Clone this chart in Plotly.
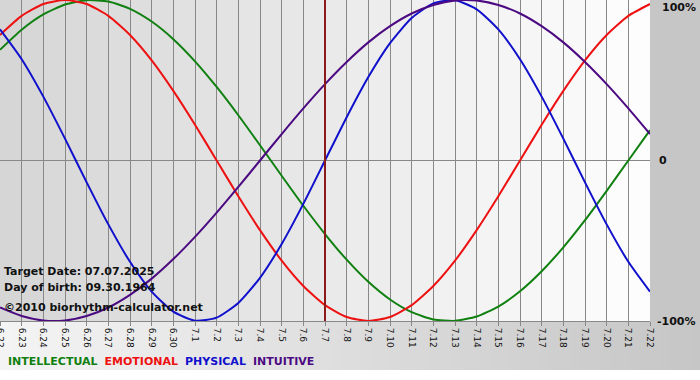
import plotly.graph_objects as go

# ---- data ----
dates = ["6.22", "6.23", "6.24", "6.25", "6.26", "6.27", "6.28", "6.29", "6.30",
         "7.1", "7.2", "7.3", "7.4", "7.5", "7.6", "7.7", "7.8", "7.9", "7.10",
         "7.11", "7.12", "7.13", "7.14", "7.15", "7.16", "7.17", "7.18", "7.19",
         "7.20", "7.21", "7.22"]

physical = [0.817, 0.631, 0.398, 0.136, -0.136, -0.398, -0.631, -0.817, -0.942,
            -0.998, -0.979, -0.888, -0.731, -0.520, -0.270, 0.000, 0.270, 0.520,
            0.731, 0.888, 0.979, 0.998, 0.942, 0.817, 0.631, 0.398, 0.136, -0.136,
            -0.398, -0.631, -0.817]

emotional = [0.782, 0.901, 0.975, 1.000, 0.975, 0.901, 0.782, 0.624, 0.434,
             0.223, 0.000, -0.223, -0.434, -0.624, -0.782, -0.901, -0.975, -1.000,
             -0.975, -0.901, -0.782, -0.624, -0.434, -0.223, 0.000, 0.223, 0.434,
             0.624, 0.782, 0.901, 0.975]

intellectual = [0.690, 0.815, 0.910, 0.972, 0.999, 0.990, 0.945, 0.866, 0.756,
                0.618, 0.458, 0.282, 0.095, -0.095, -0.282, -0.458, -0.618, -0.756,
                -0.866, -0.945, -0.990, -0.999, -0.972, -0.910, -0.815, -0.690,
                -0.541, -0.372, -0.189, 0.000, 0.189]

intuitive = [-0.916, -0.969, -0.997, -0.997, -0.969, -0.916, -0.837, -0.736, -0.614,
             -0.476, -0.325, -0.165, 0.000, 0.165, 0.325, 0.476, 0.614, 0.736,
             0.837, 0.916, 0.969, 0.997, 0.997, 0.969, 0.916, 0.837, 0.736, 0.614,
             0.476, 0.325, 0.165]

target_index = 15
y_tickvals = [1, 0, -1]
y_ticktext = ["100%", "0", "-100%"]

series = [
    ("INTELLECTUAL", intellectual, "#108010"),
    ("EMOTIONAL", emotional, "#ee1111"),
    ("PHYSICAL", physical, "#1010cc"),
    ("INTUITIVE", intuitive, "#4b0a82"),
]

# ---- layout constants (pixels) ----
W, H = 700, 380
ML, MR, MT, MB = 0, 50, 0, 59
PH = H - MT - MB
PW = W - ML - MR

def py(ypx):
    return (H - MB - ypx) / PH

def px(xpx):
    return (xpx - ML) / PW

x = list(range(len(dates)))
fig = go.Figure()
for name, vals, col in series:
    fig.add_trace(go.Scatter(x=x, y=vals, mode="lines", name=name,
                             line=dict(color=col, width=2, shape="spline", smoothing=0.6),
                             hoverinfo="skip", cliponaxis=False))

shapes = []
n = len(dates) - 1
def mix(c0, c1, t):
    return "rgb(%d,%d,%d)" % tuple(round(a + (b - a) * t) for a, b in zip(c0, c1))

# plot-area gradient by day column
for i in range(n):
    t = i / (n - 1)
    shapes.append(dict(type="rect", xref="x", yref="paper", x0=i, x1=i + 1, y0=0, y1=1,
                       fillcolor=mix((214, 214, 214), (253, 253, 253), t),
                       line=dict(width=0), layer="below"))
# right panel
shapes.append(dict(type="rect", xref="paper", yref="paper", x0=1, x1=px(W), y0=0, y1=1,
                   fillcolor="#c6c6c6", line=dict(width=0), layer="below"))
# bottom band gradient
steps = 70
for i in range(steps):
    t = i / (steps - 1)
    shapes.append(dict(type="rect", xref="paper", yref="paper",
                       x0=px(i * W / steps), x1=px((i + 1) * W / steps + 0.5),
                       y0=py(370), y1=0,
                       fillcolor=mix((244, 244, 244), (198, 198, 198), t),
                       line=dict(width=0), layer="below"))
# target line
shapes.append(dict(type="line", xref="x", yref="paper", x0=target_index, x1=target_index,
                   y0=0, y1=1, line=dict(color="#8b1a1a", width=2), layer="above"))

annotations = []
bold = dict(family="DejaVu Sans", size=11, color="#111111")
annotations.append(dict(xref="paper", yref="paper", x=px(W - 2), y=1, yanchor="top",
                        xanchor="right", text="<b>" + y_ticktext[0] + "</b>",
                        showarrow=False, font=bold, yshift=1))
annotations.append(dict(xref="paper", yref="y", x=px(663), y=y_tickvals[1], xanchor="center",
                        yanchor="middle", text="<b>" + y_ticktext[1] + "</b>",
                        showarrow=False, font=bold))
annotations.append(dict(xref="paper", yref="y", x=px(W - 2), y=y_tickvals[2], xanchor="right",
                        yanchor="middle", text="<b>" + y_ticktext[2] + "</b>",
                        showarrow=False, font=bold))

info = [("Target Date: 07.07.2025", 271), ("Day of birth: 09.30.1964", 287),
        ("©2010 biorhythm-calculator.net", 307)]
for txt, ycen in info:
    annotations.append(dict(xref="paper", yref="paper", x=px(2), y=py(ycen), xanchor="left",
                            yanchor="middle", text="<b>" + txt + "</b>", showarrow=False,
                            font=dict(family="DejaVu Sans", size=11, color="#111111")))

legend_text = "&nbsp;&nbsp;".join("<span style='color:%s'><b>%s</b></span>" % (c, nme)
                                  for nme, _, c in series)
annotations.append(dict(xref="paper", yref="paper", x=px(6), y=py(361), xanchor="left",
                        yanchor="middle", text=legend_text, showarrow=False,
                        font=dict(family="DejaVu Sans", size=11)))

fig.update_layout(
    width=W, height=H, margin=dict(l=ML, r=MR, t=MT, b=MB, pad=0, autoexpand=False),
    paper_bgcolor="white", plot_bgcolor="rgba(0,0,0,0)",
    showlegend=False, shapes=shapes, annotations=annotations,
    xaxis=dict(range=[0, n], tickmode="array", tickvals=x, ticktext=dates,
               tickangle=90, tickfont=dict(family="DejaVu Sans", size=9, color="#111111"),
               ticklabeloverflow="allow",
               showgrid=True, gridcolor="#888888", gridwidth=1,
               showline=True, linecolor="#888888", linewidth=1,
               ticks="outside", ticklen=4, tickcolor="#888888", zeroline=False,
               fixedrange=True, automargin=False),
    yaxis=dict(range=[-1, 1], showgrid=False, zeroline=True, zerolinecolor="#888888",
               zerolinewidth=1, showticklabels=False, fixedrange=True, automargin=False),
)

fig.write_html("out.html", config={"displayModeBar": False},
               post_script="document.body.style.margin='0';document.body.style.overflow='hidden';")
